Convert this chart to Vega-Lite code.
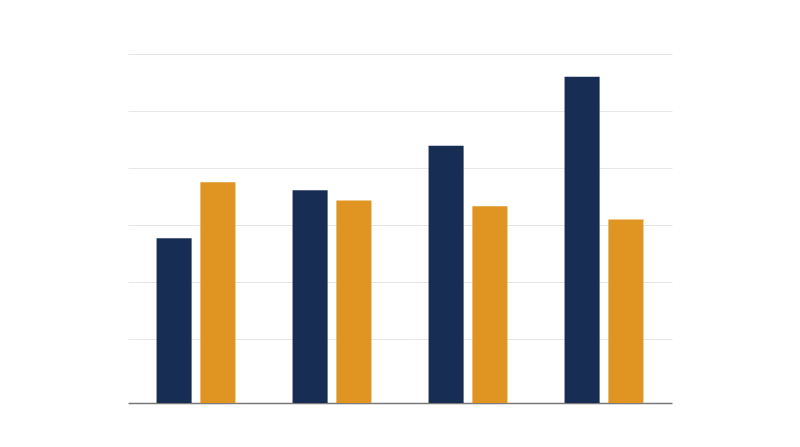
{
  "$schema": "https://vega.github.io/schema/vega-lite/v6.json",
  "width": 544,
  "height": 349,
  "autosize": "none",
  "padding": {"left": 128, "top": 54, "right": 128, "bottom": 44},
  "background": "white",
  "config": {
    "view": {"stroke": "transparent"}
  },
  "data": {
    "values": [
      {"group": "A", "series": "s1", "value": 2.77},
      {"group": "A", "series": "s2", "value": 3.75},
      {"group": "B", "series": "s1", "value": 3.61},
      {"group": "B", "series": "s2", "value": 3.43},
      {"group": "C", "series": "s1", "value": 4.39},
      {"group": "C", "series": "s2", "value": 3.33},
      {"group": "D", "series": "s1", "value": 5.6},
      {"group": "D", "series": "s2", "value": 3.1}
    ]
  },
  "mark": {"type": "bar"},
  "encoding": {
    "x": {
      "field": "group",
      "type": "nominal",
      "scale": {"paddingInner": 0.42, "paddingOuter": 0.21},
      "axis": {
        "title": null,
        "labels": false,
        "ticks": false,
        "domainColor": "#7a7a7a",
        "domainWidth": 1.5
      }
    },
    "xOffset": {
      "field": "series",
      "type": "nominal",
      "scale": {"paddingInner": 0.2, "paddingOuter": 0}
    },
    "y": {
      "field": "value",
      "type": "quantitative",
      "scale": {"domain": [-0.12, 6], "nice": false, "zero": false},
      "axis": {
        "title": null,
        "labels": false,
        "ticks": false,
        "domain": false,
        "values": [1, 2, 3, 4, 5, 6],
        "gridColor": "#e6e6e6",
        "gridWidth": 1
      }
    },
    "y2": {"datum": -0.12},
    "color": {
      "field": "series",
      "type": "nominal",
      "scale": {"domain": ["s1", "s2"], "range": ["#172d54", "#e09422"]},
      "legend": null
    }
  }
}
